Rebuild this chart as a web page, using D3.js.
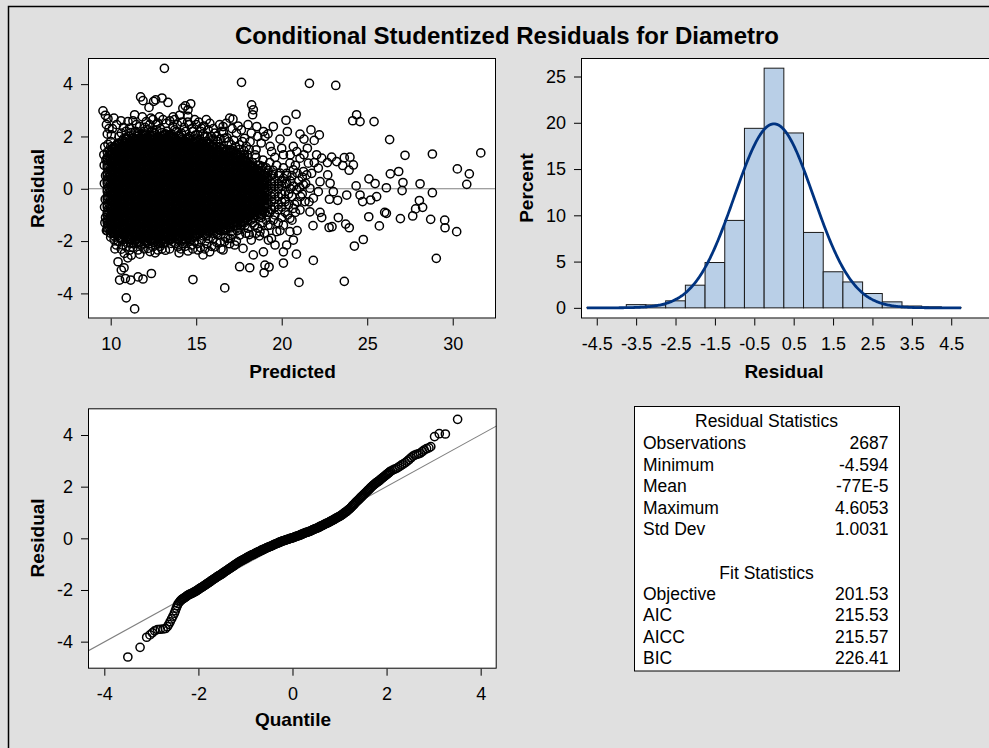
<!DOCTYPE html>
<html>
<head>
<meta charset="utf-8">
<script src="https://cdn.jsdelivr.net/npm/d3@7/dist/d3.min.js"></script>
<style>
html,body{margin:0;padding:0;background:#E0E0E0;}
svg{display:block;}
</style>
</head>
<body>
<svg id="chart" width="989" height="748"></svg>
<script>
// ---- summary values ----
const residualMean = -0.00077;
const residualStd = 1.0031;

// ---- axis ticks ----
const scatterXTicks = [10, 15, 20, 25, 30];
const residualTicks = [-4, -2, 0, 2, 4];
const histXTicks = [-4.5, -3.5, -2.5, -1.5, -0.5, 0.5, 1.5, 2.5, 3.5, 4.5];
const histYTicks = [0, 5, 10, 15, 20, 25];
const quantileTicks = [-4, -2, 0, 2, 4];

// ---- histogram of residuals (bin midpoints, percent of observations) ----
const histBinWidth = 0.5;
const histMidpoints = [-4.5, -4, -3.5, -3, -2.5, -2, -1.5, -1, -0.5, 0, 0.5, 1, 1.5, 2, 2.5, 3, 3.5, 4, 4.5];
const histPercent = [0.04, 0.04, 0.35, 0.32, 0.76, 2.45, 4.9, 9.45, 19.4, 25.9, 18.9, 8.15, 3.9, 2.8, 1.55, 0.65, 0.2, 0.11, 0.04];

// ---- statistics table ----
const residualStats = [["Observations", "2687"], ["Minimum", "-4.594"], ["Mean", "-77E-5"], ["Maximum", "4.6053"], ["Std Dev", "1.0031"]];
const fitStats = [["Objective", "201.53"], ["AIC", "215.53"], ["AICC", "215.57"], ["BIC", "226.41"]];

// ---- residual vs predicted: crowded body, one column per predicted value ----
const denseColumns = [
[9.8,[-1.6,-1.5,-1.3,-1.2,-1,-0.9,-0.7,-0.6,-0.4,-0.3,-0.1,0,0.2,0.3,0.5,0.6,0.8,0.9,1.1,1.2,1.4]],
[10.0,[-1.7,-1.6,-1.4,-1.3,-1.1,-1,-0.8,-0.7,-0.5,-0.4,-0.2,-0.1,0.1,0.2,0.4,0.5,0.7,0.8,1,1.1,1.3,1.4,1.6]],
[10.2,[-1.8,-1.7,-1.5,-1.4,-1.2,-1.1,-0.9,-0.8,-0.6,-0.5,-0.3,-0.2,0,0.1,0.3,0.4,0.6,0.7,0.9,1,1.2,1.3,1.5,1.6]],
[10.4,[-1.8,-1.6,-1.5,-1.3,-1.2,-1,-0.9,-0.7,-0.6,-0.4,-0.3,-0.1,0,0.2,0.3,0.5,0.6,0.8,0.9,1.1,1.2,1.4,1.5,1.7]],
[10.6,[-1.9,-1.7,-1.6,-1.4,-1.3,-1.1,-1,-0.8,-0.7,-0.5,-0.4,-0.2,-0.1,0.1,0.2,0.4,0.5,0.7,0.8,1,1.1,1.3,1.4,1.6,1.7]],
[10.8,[-1.8,-1.7,-1.5,-1.4,-1.2,-1.1,-0.9,-0.8,-0.6,-0.5,-0.3,-0.2,0,0.1,0.3,0.4,0.6,0.7,0.9,1,1.2,1.3,1.5,1.6,1.8]],
[11.0,[-1.9,-1.7,-1.6,-1.4,-1.3,-1.1,-1,-0.8,-0.7,-0.5,-0.4,-0.2,-0.1,0.1,0.2,0.4,0.5,0.7,0.8,1,1.1,1.3,1.4,1.6,1.7,1.9]],
[11.2,[-1.9,-1.8,-1.6,-1.5,-1.3,-1.2,-1,-0.9,-0.7,-0.6,-0.4,-0.3,-0.1,0,0.2,0.3,0.5,0.6,0.8,0.9,1.1,1.2,1.4,1.5,1.7,1.8]],
[11.4,[-2,-1.8,-1.7,-1.5,-1.4,-1.2,-1.1,-0.9,-0.8,-0.6,-0.5,-0.3,-0.2,0,0.1,0.3,0.4,0.6,0.7,0.9,1,1.2,1.3,1.5,1.6,1.8,1.9]],
[11.6,[-2,-1.9,-1.7,-1.6,-1.4,-1.3,-1.1,-1,-0.8,-0.7,-0.5,-0.4,-0.2,-0.1,0.1,0.2,0.4,0.5,0.7,0.8,1,1.1,1.3,1.4,1.6,1.7,1.9,2]],
[11.8,[-1.9,-1.8,-1.6,-1.5,-1.3,-1.2,-1,-0.9,-0.7,-0.6,-0.4,-0.3,-0.1,0,0.2,0.3,0.5,0.6,0.8,0.9,1.1,1.2,1.4,1.5,1.7,1.8,2]],
[12.0,[-2,-1.8,-1.7,-1.5,-1.4,-1.2,-1.1,-0.9,-0.8,-0.6,-0.5,-0.3,-0.2,0,0.1,0.3,0.4,0.6,0.7,0.9,1,1.2,1.3,1.5,1.6,1.8,1.9,2.1]],
[12.2,[-1.9,-1.8,-1.6,-1.5,-1.3,-1.2,-1,-0.9,-0.7,-0.6,-0.4,-0.3,-0.1,0,0.2,0.3,0.5,0.6,0.8,0.9,1.1,1.2,1.4,1.5,1.7,1.8]],
[12.4,[-2,-1.9,-1.7,-1.6,-1.4,-1.3,-1.1,-1,-0.8,-0.7,-0.5,-0.4,-0.2,-0.1,0.1,0.2,0.4,0.5,0.7,0.8,1,1.1,1.3,1.4,1.6,1.7,1.9,2,2.2]],
[12.6,[-2,-1.8,-1.7,-1.5,-1.4,-1.2,-1.1,-0.9,-0.8,-0.6,-0.5,-0.3,-0.2,0,0.1,0.3,0.4,0.6,0.7,0.9,1,1.2,1.3,1.5,1.6,1.8,1.9]],
[12.8,[-2.1,-1.9,-1.8,-1.6,-1.5,-1.3,-1.2,-1,-0.9,-0.7,-0.6,-0.4,-0.3,-0.1,0,0.2,0.3,0.5,0.6,0.8,0.9,1.1,1.2,1.4,1.5,1.7,1.8,2]],
[13.0,[-2,-1.9,-1.7,-1.6,-1.4,-1.3,-1.1,-1,-0.8,-0.7,-0.5,-0.4,-0.2,-0.1,0.1,0.2,0.4,0.5,0.7,0.8,1,1.1,1.3,1.4,1.6,1.7,1.9,2]],
[13.2,[-1.8,-1.7,-1.5,-1.4,-1.2,-1.1,-0.9,-0.8,-0.6,-0.5,-0.3,-0.2,0,0.1,0.3,0.4,0.6,0.7,0.9,1,1.2,1.3,1.5,1.6,1.8,1.9,2.1]],
[13.4,[-1.9,-1.7,-1.6,-1.4,-1.3,-1.1,-1,-0.8,-0.7,-0.5,-0.4,-0.2,-0.1,0.1,0.2,0.4,0.5,0.7,0.8,1,1.1,1.3,1.4,1.6,1.7,1.9,2]],
[13.6,[-1.9,-1.8,-1.6,-1.5,-1.3,-1.2,-1,-0.9,-0.7,-0.6,-0.4,-0.3,-0.1,0,0.2,0.3,0.5,0.6,0.8,0.9,1.1,1.2,1.4,1.5,1.7,1.8,2]],
[13.8,[-1.8,-1.7,-1.5,-1.4,-1.2,-1.1,-0.9,-0.8,-0.6,-0.5,-0.3,-0.2,0,0.1,0.3,0.4,0.6,0.7,0.9,1,1.2,1.3,1.5,1.6,1.8,1.9]],
[14.0,[-1.9,-1.8,-1.6,-1.5,-1.3,-1.2,-1,-0.9,-0.7,-0.6,-0.4,-0.3,-0.1,0,0.2,0.3,0.5,0.6,0.8,0.9,1.1,1.2,1.4,1.5,1.7,1.8,2]],
[14.2,[-1.9,-1.7,-1.6,-1.4,-1.3,-1.1,-1,-0.8,-0.7,-0.5,-0.4,-0.2,-0.1,0.1,0.2,0.4,0.5,0.7,0.8,1,1.1,1.3,1.4,1.6,1.7,1.9]],
[14.4,[-2,-1.8,-1.7,-1.5,-1.4,-1.2,-1.1,-0.9,-0.8,-0.6,-0.5,-0.3,-0.2,0,0.1,0.3,0.4,0.6,0.7,0.9,1,1.2,1.3,1.5,1.6,1.8,1.9]],
[14.6,[-1.9,-1.7,-1.6,-1.4,-1.3,-1.1,-1,-0.8,-0.7,-0.5,-0.4,-0.2,-0.1,0.1,0.2,0.4,0.5,0.7,0.8,1,1.1,1.3,1.4,1.6,1.7,1.9]],
[14.8,[-1.8,-1.6,-1.5,-1.3,-1.2,-1,-0.9,-0.7,-0.6,-0.4,-0.3,-0.1,0,0.2,0.3,0.5,0.6,0.8,0.9,1.1,1.2,1.4,1.5,1.7,1.8]],
[15.0,[-1.8,-1.7,-1.5,-1.4,-1.2,-1.1,-0.9,-0.8,-0.6,-0.5,-0.3,-0.2,0,0.1,0.3,0.4,0.6,0.7,0.9,1,1.2,1.3,1.5,1.6,1.8,1.9]],
[15.2,[-1.7,-1.6,-1.4,-1.3,-1.1,-1,-0.8,-0.7,-0.5,-0.4,-0.2,-0.1,0.1,0.2,0.4,0.5,0.7,0.8,1,1.1,1.3,1.4,1.6,1.7]],
[15.4,[-1.8,-1.6,-1.5,-1.3,-1.2,-1,-0.9,-0.7,-0.6,-0.4,-0.3,-0.1,0,0.2,0.3,0.5,0.6,0.8,0.9,1.1,1.2,1.4,1.5,1.7,1.8]],
[15.6,[-1.8,-1.7,-1.5,-1.4,-1.2,-1.1,-0.9,-0.8,-0.6,-0.5,-0.3,-0.2,0,0.1,0.3,0.4,0.6,0.7,0.9,1,1.2,1.3,1.5,1.6,1.8]],
[15.8,[-1.6,-1.5,-1.3,-1.2,-1,-0.9,-0.7,-0.6,-0.4,-0.3,-0.1,0,0.2,0.3,0.5,0.6,0.8,0.9,1.1,1.2,1.4,1.5,1.7]],
[16.0,[-1.7,-1.6,-1.4,-1.3,-1.1,-1,-0.8,-0.7,-0.5,-0.4,-0.2,-0.1,0.1,0.2,0.4,0.5,0.7,0.8,1,1.1,1.3,1.4,1.6,1.7]],
[16.2,[-1.7,-1.5,-1.4,-1.2,-1.1,-0.9,-0.8,-0.6,-0.5,-0.3,-0.2,0,0.1,0.3,0.4,0.6,0.7,0.9,1,1.2,1.3,1.5,1.6]],
[16.4,[-1.6,-1.4,-1.3,-1.1,-1,-0.8,-0.7,-0.5,-0.4,-0.2,-0.1,0.1,0.2,0.4,0.5,0.7,0.8,1,1.1,1.3,1.4,1.6]],
[16.6,[-1.6,-1.5,-1.3,-1.2,-1,-0.9,-0.7,-0.6,-0.4,-0.3,-0.1,0,0.2,0.3,0.5,0.6,0.8,0.9,1.1,1.2,1.4,1.5]],
[16.8,[-1.5,-1.4,-1.2,-1.1,-0.9,-0.8,-0.6,-0.5,-0.3,-0.2,0,0.1,0.3,0.4,0.6,0.7,0.9,1,1.2,1.3,1.5]],
[17.0,[-1.5,-1.3,-1.2,-1,-0.9,-0.7,-0.6,-0.4,-0.3,-0.1,0,0.2,0.3,0.5,0.6,0.8,0.9,1.1,1.2,1.4,1.5]],
[17.2,[-1.4,-1.3,-1.1,-1,-0.8,-0.7,-0.5,-0.4,-0.2,-0.1,0.1,0.2,0.4,0.5,0.7,0.8,1,1.1,1.3,1.4]],
[17.4,[-1.4,-1.2,-1.1,-0.9,-0.8,-0.6,-0.5,-0.3,-0.2,0,0.1,0.3,0.4,0.6,0.7,0.9,1,1.2,1.3]],
[17.6,[-1.4,-1.3,-1.1,-1,-0.8,-0.7,-0.5,-0.4,-0.2,-0.1,0.1,0.2,0.4,0.5,0.7,0.8,1,1.1,1.3]],
[17.8,[-1.3,-1.2,-1,-0.9,-0.7,-0.6,-0.4,-0.3,-0.1,0,0.2,0.3,0.5,0.6,0.8,0.9,1.1,1.2]],
[18.0,[-1.2,-1.1,-0.9,-0.8,-0.6,-0.5,-0.3,-0.2,0,0.1,0.3,0.4,0.6,0.7,0.9,1]],
[18.2,[-1.2,-1,-0.9,-0.7,-0.6,-0.4,-0.3,-0.1,0,0.2,0.3,0.5,0.6,0.8,0.9]],
[18.4,[-1.1,-1,-0.8,-0.7,-0.5,-0.4,-0.2,-0.1,0.1,0.2,0.4,0.5,0.7,0.8]],
[18.6,[-0.9,-0.8,-0.6,-0.5,-0.3,-0.2,0,0.1,0.3,0.4,0.6,0.7]],
[18.8,[-1,-0.8,-0.7,-0.5,-0.4,-0.2,-0.1,0.1,0.2,0.4,0.5,0.7,0.8]],
[19.0,[-0.9,-0.7,-0.6,-0.4,-0.3,-0.1,0,0.2,0.3,0.5,0.6]],
[19.2,[-0.9,-0.6,-0.4,-0.1,0.1,0.4,0.6]],
[19.4,[-0.8,-0.5,-0.3,0,0.2,0.5]],
[19.6,[-0.7,-0.4,-0.2,0.1,0.3]],
[19.8,[-0.6,-0.3,0,0.2]],
[20.0,[-0.5,-0.2,0.1,0.3]],
[20.2,[-0.4,-0.1,0.2]],
[9.9,[-1.55,-1.35,-1.15,-0.95,-0.75,-0.55,-0.35,-0.15,0.05,0.25,0.45,0.65,0.85,1.05,1.25,1.45]],
[10.1,[-1.65,-1.45,-1.25,-1.05,-0.85,-0.65,-0.45,-0.25,-0.05,0.15,0.35,0.55,0.75,0.95,1.15,1.35,1.55]],
[10.3,[-1.75,-1.55,-1.35,-1.15,-0.95,-0.75,-0.55,-0.35,-0.15,0.05,0.25,0.45,0.65,0.85,1.05,1.25,1.45,1.65]],
[10.5,[-1.85,-1.65,-1.45,-1.25,-1.05,-0.85,-0.65,-0.45,-0.25,-0.05,0.15,0.35,0.55,0.75,0.95,1.15,1.35,1.55,1.75]],
[10.7,[-1.95,-1.75,-1.55,-1.35,-1.15,-0.95,-0.75,-0.55,-0.35,-0.15,0.05,0.25,0.45,0.65,0.85,1.05,1.25,1.45,1.65,1.85]],
[10.9,[-1.85,-1.65,-1.45,-1.25,-1.05,-0.85,-0.65,-0.45,-0.25,-0.05,0.15,0.35,0.55,0.75,0.95,1.15,1.35,1.55,1.75,1.95]],
[11.1,[-1.95,-1.75,-1.55,-1.35,-1.15,-0.95,-0.75,-0.55,-0.35,-0.15,0.05,0.25,0.45,0.65,0.85,1.05,1.25,1.45,1.65,1.85]],
[11.3,[-2.05,-1.85,-1.65,-1.45,-1.25,-1.05,-0.85,-0.65,-0.45,-0.25,-0.05,0.15,0.35,0.55,0.75,0.95,1.15,1.35,1.55,1.75,1.95]],
[11.5,[-1.95,-1.75,-1.55,-1.35,-1.15,-0.95,-0.75,-0.55,-0.35,-0.15,0.05,0.25,0.45,0.65,0.85,1.05,1.25,1.45,1.65,1.85,2.05]],
[11.7,[-2.05,-1.85,-1.65,-1.45,-1.25,-1.05,-0.85,-0.65,-0.45,-0.25,-0.05,0.15,0.35,0.55,0.75,0.95,1.15,1.35,1.55,1.75,1.95]],
[11.9,[-1.95,-1.75,-1.55,-1.35,-1.15,-0.95,-0.75,-0.55,-0.35,-0.15,0.05,0.25,0.45,0.65,0.85,1.05,1.25,1.45,1.65,1.85,2.05]],
[12.1,[-2.05,-1.85,-1.65,-1.45,-1.25,-1.05,-0.85,-0.65,-0.45,-0.25,-0.05,0.15,0.35,0.55,0.75,0.95,1.15,1.35,1.55,1.75,1.95]],
[12.3,[-1.95,-1.75,-1.55,-1.35,-1.15,-0.95,-0.75,-0.55,-0.35,-0.15,0.05,0.25,0.45,0.65,0.85,1.05,1.25,1.45,1.65,1.85,2.05]],
[12.5,[-2.05,-1.85,-1.65,-1.45,-1.25,-1.05,-0.85,-0.65,-0.45,-0.25,-0.05,0.15,0.35,0.55,0.75,0.95,1.15,1.35,1.55,1.75,1.95,2.15]],
[12.7,[-1.95,-1.75,-1.55,-1.35,-1.15,-0.95,-0.75,-0.55,-0.35,-0.15,0.05,0.25,0.45,0.65,0.85,1.05,1.25,1.45,1.65,1.85]],
[12.9,[-2.05,-1.85,-1.65,-1.45,-1.25,-1.05,-0.85,-0.65,-0.45,-0.25,-0.05,0.15,0.35,0.55,0.75,0.95,1.15,1.35,1.55,1.75,1.95]],
[13.1,[-1.95,-1.75,-1.55,-1.35,-1.15,-0.95,-0.75,-0.55,-0.35,-0.15,0.05,0.25,0.45,0.65,0.85,1.05,1.25,1.45,1.65,1.85,2.05]],
[13.3,[-1.85,-1.65,-1.45,-1.25,-1.05,-0.85,-0.65,-0.45,-0.25,-0.05,0.15,0.35,0.55,0.75,0.95,1.15,1.35,1.55,1.75,1.95]],
[13.5,[-1.95,-1.75,-1.55,-1.35,-1.15,-0.95,-0.75,-0.55,-0.35,-0.15,0.05,0.25,0.45,0.65,0.85,1.05,1.25,1.45,1.65,1.85,2.05]],
[13.7,[-1.85,-1.65,-1.45,-1.25,-1.05,-0.85,-0.65,-0.45,-0.25,-0.05,0.15,0.35,0.55,0.75,0.95,1.15,1.35,1.55,1.75,1.95]],
[13.9,[-1.95,-1.75,-1.55,-1.35,-1.15,-0.95,-0.75,-0.55,-0.35,-0.15,0.05,0.25,0.45,0.65,0.85,1.05,1.25,1.45,1.65,1.85]],
[14.1,[-1.85,-1.65,-1.45,-1.25,-1.05,-0.85,-0.65,-0.45,-0.25,-0.05,0.15,0.35,0.55,0.75,0.95,1.15,1.35,1.55,1.75,1.95]],
[14.3,[-1.95,-1.75,-1.55,-1.35,-1.15,-0.95,-0.75,-0.55,-0.35,-0.15,0.05,0.25,0.45,0.65,0.85,1.05,1.25,1.45,1.65,1.85]],
[14.5,[-1.85,-1.65,-1.45,-1.25,-1.05,-0.85,-0.65,-0.45,-0.25,-0.05,0.15,0.35,0.55,0.75,0.95,1.15,1.35,1.55,1.75,1.95]],
[14.7,[-1.95,-1.75,-1.55,-1.35,-1.15,-0.95,-0.75,-0.55,-0.35,-0.15,0.05,0.25,0.45,0.65,0.85,1.05,1.25,1.45,1.65,1.85]],
[14.9,[-1.85,-1.65,-1.45,-1.25,-1.05,-0.85,-0.65,-0.45,-0.25,-0.05,0.15,0.35,0.55,0.75,0.95,1.15,1.35,1.55,1.75]],
[15.1,[-1.75,-1.55,-1.35,-1.15,-0.95,-0.75,-0.55,-0.35,-0.15,0.05,0.25,0.45,0.65,0.85,1.05,1.25,1.45,1.65,1.85]],
[15.3,[-1.65,-1.45,-1.25,-1.05,-0.85,-0.65,-0.45,-0.25,-0.05,0.15,0.35,0.55,0.75,0.95,1.15,1.35,1.55,1.75]],
[15.5,[-1.75,-1.55,-1.35,-1.15,-0.95,-0.75,-0.55,-0.35,-0.15,0.05,0.25,0.45,0.65,0.85,1.05,1.25,1.45,1.65]],
[15.7,[-1.65,-1.45,-1.25,-1.05,-0.85,-0.65,-0.45,-0.25,-0.05,0.15,0.35,0.55,0.75,0.95,1.15,1.35,1.55,1.75]],
[15.9,[-1.55,-1.35,-1.15,-0.95,-0.75,-0.55,-0.35,-0.15,0.05,0.25,0.45,0.65,0.85,1.05,1.25,1.45,1.65]],
[16.1,[-1.65,-1.45,-1.25,-1.05,-0.85,-0.65,-0.45,-0.25,-0.05,0.15,0.35,0.55,0.75,0.95,1.15,1.35,1.55]],
[16.3,[-1.55,-1.35,-1.15,-0.95,-0.75,-0.55,-0.35,-0.15,0.05,0.25,0.45,0.65,0.85,1.05,1.25,1.45]],
[16.5,[-1.45,-1.25,-1.05,-0.85,-0.65,-0.45,-0.25,-0.05,0.15,0.35,0.55,0.75,0.95,1.15,1.35,1.55]],
[16.7,[-1.55,-1.35,-1.15,-0.95,-0.75,-0.55,-0.35,-0.15,0.05,0.25,0.45,0.65,0.85,1.05,1.25,1.45]],
[16.9,[-1.45,-1.25,-1.05,-0.85,-0.65,-0.45,-0.25,-0.05,0.15,0.35,0.55,0.75,0.95,1.15,1.35]],
[17.1,[-1.35,-1.15,-0.95,-0.75,-0.55,-0.35,-0.15,0.05,0.25,0.45,0.65,0.85,1.05,1.25,1.45]],
[17.3,[-1.25,-1.05,-0.85,-0.65,-0.45,-0.25,-0.05,0.15,0.35,0.55,0.75,0.95,1.15,1.35]],
[17.5,[-1.35,-1.15,-0.95,-0.75,-0.55,-0.35,-0.15,0.05,0.25,0.45,0.65,0.85,1.05,1.25]],
[17.7,[-1.25,-1.05,-0.85,-0.65,-0.45,-0.25,-0.05,0.15,0.35,0.55,0.75,0.95,1.15]],
[17.9,[-1.15,-0.95,-0.75,-0.55,-0.35,-0.15,0.05,0.25,0.45,0.65,0.85,1.05]],
[18.1,[-1.05,-0.85,-0.65,-0.45,-0.25,-0.05,0.15,0.35,0.55,0.75,0.95]],
[18.3,[-1.15,-0.95,-0.75,-0.55,-0.35,-0.15,0.05,0.25,0.45,0.65,0.85]],
[18.5,[-0.85,-0.65,-0.45,-0.25,-0.05,0.15,0.35,0.55,0.75]],
[18.7,[-0.95,-0.75,-0.55,-0.35,-0.15,0.05,0.25,0.45,0.65]],
[18.9,[-0.85,-0.65,-0.45,-0.25,-0.05,0.15,0.35,0.55]],
[19.1,[-0.75,-0.55,-0.35,-0.15,0.05,0.25,0.45]]
];

// ---- residual vs predicted: edge of the body and outlying observations [predicted, residual] ----
const sparsePoints = [
[13.14,4.6053],[17.65,4.07],[11.75,3.51],[11.89,3.37],[12.24,3.11],[12.51,3.34],[12.63,3.40],[13.0,3.47],[13.35,3.30],[14.22,3.08],[14.36,3.17],[14.68,3.25],[14.52,3.02],
[9.55,2.98],[9.69,2.81],[9.84,2.68],[10.19,2.70],[9.80,2.09],[10.04,2.06],[9.84,1.70],[10.62,2.13],[10.78,1.93],[11.01,2.57],[11.11,2.32],[11.40,2.83],[11.69,2.38],[11.60,2.13],[12.08,2.57],[12.28,2.45],[12.47,2.64],[12.76,2.51],[13.06,2.64],[13.45,2.60],[13.64,2.38],[13.74,2.64],[14.03,2.81],[13.84,2.19],[14.52,2.77],[14.91,2.64],[15.30,2.32],[15.59,2.64],[16.08,2.13],[16.37,2.45],[16.57,2.38],[16.96,2.70],[17.15,2.66],[17.35,2.13],[17.64,2.25],[17.83,1.93],[17.54,1.68],[18.03,2.45],[18.22,2.13],[17.83,1.30],[17.93,1.62],[17.05,1.68],[16.66,1.93],[16.27,1.81],[15.88,2.00],[15.10,2.06],[14.61,2.00],[14.13,2.13],[13.16,2.06],[12.57,2.13],[11.89,2.06],[11.31,1.93],[10.43,1.74],[10.29,1.55],
[10.9,2.2],[11.5,2.45],[12.9,2.3],[13.3,2.2],[14.3,2.35],[14.8,2.2],[15.4,2.1],[15.7,2.25],[16.2,2.0],[16.8,1.95],[17.2,1.85],[17.5,1.5],[12.0,2.35],[13.9,2.45],[15.0,2.45],[16.6,2.15],[10.5,2.0],[11.2,2.15],[12.7,2.25],[14.6,2.45],[17.9,1.1],[18.1,1.5],[16.0,1.9],[15.5,2.0],[12.2,2.25],[13.55,2.1],
[10.1,2.3],[10.35,2.45],[10.6,2.6],[10.75,2.35],[11.05,2.0],[11.3,2.6],[11.45,2.2],[11.85,2.75],[11.95,2.2],[12.1,2.05],[12.35,2.7],[12.45,2.05],[12.65,2.45],[12.85,2.75],[13.0,2.15],[13.25,2.5],[13.4,2.05],[13.65,2.75],[13.75,2.25],[14.0,2.05],[14.15,2.55],[14.4,2.2],[14.5,2.55],[14.75,2.3],[14.95,2.05],[15.15,2.55],[15.25,2.2],[15.45,2.4],[15.65,2.0],[15.8,2.5],[16.0,2.3],[16.15,1.85],[16.4,1.9],[16.5,2.2],[16.75,2.5],[16.9,1.8],[17.1,2.3],[17.3,1.6],[17.45,2.4],[17.7,1.8],[17.8,1.45],[18.0,1.3],[18.15,1.8],[9.9,2.3],[9.75,2.45],[10.0,1.8],[9.6,1.3],[9.62,0.9],[9.63,0.2],[9.64,-0.7],[9.66,-1.3],
[11.40,-4.594],[10.91,-4.17],[10.43,-2.79],[10.62,-3.11],[10.78,-3.02],[10.86,-3.43],[10.52,-3.49],[11.17,-3.49],[11.60,-3.37],[11.89,-3.45],[12.38,-3.24],[14.81,-3.47],[16.67,-3.79],[17.54,-2.98],[18.13,-3.02],[11.0,-2.64],[11.21,-2.54],[10.8,-2.47],
[10.33,-2.15],[10.62,-2.31],[10.91,-2.22],[11.21,-2.09],[11.60,-2.34],[11.79,-2.15],[12.18,-2.28],[12.47,-2.22],[12.76,-2.34],[13.35,-1.96],[13.55,-2.09],[13.94,-2.22],[14.52,-2.38],[14.71,-2.15],[15.10,-2.34],[15.40,-2.53],[15.79,-2.41],[16.08,-2.22],[16.57,-2.34],[16.66,-2.02],[17.25,-2.15],[17.74,-2.28],[17.54,-1.77],[18.22,-1.96],[18.03,-1.51],[17.64,-1.39],[17.05,-1.64],[10.62,-1.90],[10.13,-1.70],[9.84,-1.39],[16.86,-1.90],[16.27,-1.77],[13.84,-1.90],[13.06,-2.09],[12.38,-1.96],[11.40,-1.96],
[10.2,-1.95],[11.0,-2.05],[12.0,-2.1],[12.9,-2.2],[13.7,-2.05],[14.2,-2.1],[14.9,-2.0],[15.6,-2.1],[16.0,-1.9],[16.4,-2.05],[17.0,-1.9],[17.4,-1.6],[17.9,-1.7],[15.3,-1.95],[11.7,-2.5],[12.6,-2.45],[14.0,-2.45],[13.2,-2.35],[9.7,-1.1],[9.68,-0.4],[9.7,0.5],[9.72,1.1],[9.65,1.6],[9.75,-1.6],
[10.0,-1.85],[10.25,-2.3],[10.45,-2.0],[10.7,-2.15],[11.1,-2.35],[11.3,-2.25],[11.5,-2.1],[11.95,-2.3],[12.1,-2.0],[12.3,-2.4],[12.55,-2.05],[12.8,-2.1],[13.0,-2.3],[13.15,-2.05],[13.45,-2.3],[13.8,-2.1],[14.1,-2.3],[14.35,-2.2],[14.6,-2.0],[14.8,-2.3],[15.05,-2.1],[15.25,-2.25],[15.5,-2.3],[15.7,-1.9],[15.9,-2.2],[16.2,-2.05],[16.45,-2.3],[16.7,-1.85],[16.95,-2.1],[17.15,-1.75],[17.35,-2.0],[17.6,-1.55],[17.85,-1.4],[18.1,-1.75],[18.3,-1.3],
[18.24,3.21],[18.34,3.02],[18.30,2.83],[18.54,2.38],[18.93,2.19],[19.02,2.00],[19.51,2.38],[20.25,2.62],[20.84,2.85],[20.33,2.19],[21.07,2.09],[21.71,2.25],[22.20,2.06],[18.50,1.49],[18.44,1.30],[19.32,1.62],[19.41,1.42],[20.0,1.55],[20.10,1.30],[20.68,1.62],[20.88,1.42],[21.07,1.17],[21.50,1.55],[22.04,1.30],[22.34,1.17],[22.92,1.21],[23.21,1.04],[23.66,1.19],[23.99,1.21],[24.19,0.91],[23.57,0.89],[23.94,0.71],[22.69,0.53],[22.67,1.00],[22.14,0.79],[21.75,0.59],[21.46,0.53],[21.56,0.98],[21.27,0.66],[20.48,0.98],[20.68,0.72],[20.29,0.59],[22.83,0.21],[23.02,-0.11],[22.14,-0.11],[21.65,0.02],[21.27,0.15],[20.88,-0.04],[22.24,0.27],[21.85,-0.36],[21.36,-0.49],[21.07,-0.81],[20.68,-0.75],[22.34,-1.10],[21.65,-0.88],[22.24,-0.90],[22.79,-0.40],[23.27,-0.44],[23.80,-0.24],[23.31,-1.10],[22.94,-1.45],[22.77,-1.48],[21.83,-1.41],[23.74,-1.35],[23.95,-1.49],[24.35,0.11],[24.58,-0.24],[24.73,-0.49],[25.10,0.38],[25.46,0.20],[25.55,-0.30],[25.20,-0.43],[20.48,-1.13],[20.10,-1.39],[20.48,-1.64],[20.68,-1.96],[20.29,-2.15],[20.10,-2.41],[19.61,-2.15],[19.22,-1.96],[18.93,-2.41],[19.02,-2.92],[19.26,-2.99],[18.97,-3.21],[20.10,-2.84],[20.86,-2.50],[18.34,-2.53],[19.71,-1.64],[19.32,-1.39],[18.73,-1.64],[21.85,-2.74],[21.01,-3.58],[23.66,-3.54],
[21.62,4.03],[23.16,3.95],[24.38,2.83],[24.15,2.60],[24.58,2.57],[25.40,2.57],[26.31,1.88],[27.21,1.28],[28.81,1.33],[31.64,1.37],[30.27,0.76],[30.97,0.57],[30.82,0.17],[28.81,-0.15],[28.09,0.19],[27.09,0.24],[27.04,-0.07],[26.35,0.57],[26.84,0.66],[26.12,0.04],[28.05,-0.45],[28.24,-0.71],[27.83,-0.77],[27.66,-1.04],[28.71,-1.17],[29.53,-1.20],[29.55,-1.49],[30.23,-1.64],[29.04,-2.66],[26.94,-1.14],[26.02,-0.90],[26.12,-0.94],[25.71,-1.42],[25.09,-1.07],[24.77,-1.94],[24.25,-2.19],
[18.3,1.0],[18.5,1.2],[18.7,0.9],[18.9,1.1],[19.1,0.8],[19.3,1.0],[19.5,0.7],[19.7,0.9],[19.9,0.6],[20.1,0.8],[20.3,0.5],[20.5,0.3],[20.7,0.1],[20.6,-0.3],[20.4,-0.6],[20.2,-0.9],[20.0,-1.1],[19.8,-1.3],[19.5,-1.2],[19.2,-1.4],[18.9,-1.3],[18.6,-1.5],[18.4,-1.4],[18.7,-1.8],[19.0,-1.7],[19.4,-1.9],[20.6,-1.2],[20.9,-0.5],[21.0,0.3],[20.8,0.9],[20.9,-1.6],[21.2,-0.2],
[18.8,1.75],[19.2,2.1],[19.9,1.9],[18.6,2.0],[19.6,1.2],[20.5,1.3],[21.3,1.9],[21.9,1.0],[21.9,1.85],[21.3,1.3],
[18.5,-1.0],[18.8,-1.1],[19.1,-1.0],[19.3,-0.9],[19.6,-1.0],[19.8,-0.8],[20.0,-0.7],[20.2,-0.5],[20.4,-0.2],[20.5,0.0],[20.3,0.2],[20.1,0.4],[19.8,0.5],[19.5,0.55],[19.2,0.7],[18.9,0.85],[18.6,0.9],[20.6,0.5],[20.8,-0.9],[21.1,-0.3],[21.4,0.2],[21.6,-0.5],[21.2,0.45],[20.9,0.6],[19.9,-1.6],[19.1,-1.2],[18.5,-1.7],[20.35,-1.0],[20.75,-0.6],[21.05,0.05]
];

// ---- normal quantile plot [quantile, ordered residual] ----
const qqPoints = [
[-3.50,-4.594],[-3.24,-4.22],[-3.10,-3.83],[-3.03,-3.74],[-2.98,-3.66],[-2.93,-3.58],[-2.87,-3.53],[-2.81,-3.52],[-2.75,-3.51],[-2.70,-3.49],[-2.66,-3.42],[-2.63,-3.33],[-2.60,-3.23],[-2.57,-3.12],[-2.54,-3.01],[-2.51,-2.90],[-2.49,-2.80],[-2.47,-2.70],[-2.45,-2.61],[-2.43,-2.53],[-2.40,-2.46],[-2.38,-2.41],
[-2.36,-2.38],[-2.32,-2.33],[-2.28,-2.28],[-2.24,-2.23],[-2.20,-2.18],[-2.16,-2.15],[-2.12,-2.11],[-2.08,-2.07],[-2.04,-2.03],[-2.00,-1.98],[-1.96,-1.93],[-1.92,-1.89],[-1.88,-1.84],[-1.84,-1.79],[-1.80,-1.74],[-1.76,-1.69],[-1.72,-1.64],[-1.68,-1.59],[-1.64,-1.54],[-1.60,-1.49],[-1.56,-1.44],[-1.52,-1.40],[-1.48,-1.35],[-1.44,-1.30],[-1.40,-1.25],[-1.36,-1.20],[-1.32,-1.15],[-1.28,-1.10],[-1.24,-1.05],[-1.20,-1.00],[-1.16,-0.95],[-1.12,-0.90],[-1.08,-0.86],[-1.04,-0.82],[-1.00,-0.78],[-0.96,-0.74],[-0.92,-0.70],[-0.88,-0.66],[-0.84,-0.63],[-0.80,-0.59],[-0.76,-0.55],[-0.72,-0.52],[-0.68,-0.48],[-0.64,-0.45],[-0.60,-0.42],[-0.56,-0.38],[-0.52,-0.35],[-0.48,-0.32],[-0.44,-0.29],[-0.40,-0.25],[-0.36,-0.22],[-0.32,-0.19],[-0.28,-0.16],[-0.24,-0.13],[-0.20,-0.10],[-0.16,-0.08],[-0.12,-0.05],[-0.08,-0.03],[-0.04,0.00],[0.00,0.02],[0.04,0.05],[0.08,0.08],[0.12,0.10],[0.16,0.13],[0.20,0.16],[0.24,0.19],[0.28,0.22],[0.32,0.24],[0.36,0.27],[0.40,0.30],[0.44,0.34],[0.48,0.37],[0.52,0.40],[0.56,0.43],[0.60,0.47],[0.64,0.50],[0.68,0.54],[0.72,0.58],[0.76,0.61],[0.80,0.65],[0.84,0.69],[0.88,0.73],[0.92,0.77],[0.96,0.81],[1.00,0.85],[1.04,0.90],[1.08,0.95],[1.12,1.01],[1.16,1.06],[1.20,1.12],[1.24,1.19],[1.28,1.27],[1.32,1.34],[1.36,1.42],[1.40,1.49],[1.44,1.56],[1.48,1.63],[1.52,1.70],[1.56,1.78],[1.60,1.85],[1.64,1.92],[1.68,1.99],[1.72,2.06],[1.76,2.12],[1.80,2.18],[1.84,2.23],[1.88,2.29],[1.92,2.35],[1.96,2.41],[2.00,2.47],[2.04,2.53],[2.08,2.59],[2.12,2.63],[2.16,2.67],[2.20,2.70],[2.24,2.74],[2.28,2.79],[2.32,2.84],[2.36,2.88],[2.40,2.93],[2.44,2.99],[2.48,3.05],[2.52,3.12],[2.56,3.18],
[1.22,1.15],[1.26,1.23],[1.30,1.30],[1.34,1.38],[1.38,1.45],[1.42,1.52],[1.46,1.60],[1.50,1.67],[1.54,1.74],[1.58,1.81],[1.62,1.88],[1.66,1.96],[1.70,2.03],[1.74,2.09],[1.78,2.15],[1.82,2.20],[1.86,2.26],[1.90,2.32],[1.94,2.38],[1.98,2.44],[2.02,2.50],[2.06,2.56],
[-2.34,-2.35],[-2.30,-2.30],[-2.26,-2.25],[-2.22,-2.20],[-2.18,-2.16],[-2.14,-2.13],[-2.10,-2.09],[-2.06,-2.05],[-2.02,-2.00],[-1.98,-1.95],[-1.94,-1.91],[-1.90,-1.86],[-1.86,-1.81],[-1.82,-1.76],[-1.78,-1.71],[-1.74,-1.66],[-1.70,-1.61],[-1.66,-1.56],[-1.62,-1.51],[-1.58,-1.46],[-1.54,-1.42],[-1.50,-1.37],[-1.46,-1.32],[-1.42,-1.27],[-1.38,-1.22],[-1.34,-1.17],[-1.30,-1.12],[-1.26,-1.07],[-1.22,-1.02],[-1.18,-0.97],[-1.14,-0.92],[-1.10,-0.88],[-1.06,-0.84],[-1.02,-0.80],[-0.98,-0.76],[-0.94,-0.72],[-0.90,-0.68],[-0.86,-0.64],[-0.82,-0.61],[-0.78,-0.57],[-0.74,-0.53],[-0.70,-0.50],[-0.66,-0.46],[-0.62,-0.43],[-0.58,-0.40],[-0.54,-0.36],[-0.50,-0.33],[-0.46,-0.30],[-0.42,-0.27],[-0.38,-0.23],[-0.34,-0.20],[-0.30,-0.17],[-0.26,-0.14],[-0.22,-0.11],[-0.18,-0.09],[-0.14,-0.06],[-0.10,-0.04],[-0.06,-0.01],[-0.02,0.01],[0.02,0.03],[0.06,0.06],[0.10,0.09],[0.14,0.11],[0.18,0.14],[0.22,0.17],[0.26,0.20],[0.30,0.23],[0.34,0.25],[0.38,0.28],[0.42,0.32],[0.46,0.35],[0.50,0.38],[0.54,0.41],[0.58,0.45],[0.62,0.48],[0.66,0.52],[0.70,0.56],[0.74,0.59],[0.78,0.63],[0.82,0.67],[0.86,0.71],[0.90,0.75],[0.94,0.79],[0.98,0.83],[1.02,0.87],[1.06,0.92],[1.10,0.98],[1.14,1.03],[1.18,1.09],
[2.60,3.22],[2.64,3.25],[2.68,3.27],[2.72,3.30],[2.76,3.36],[2.80,3.42],[2.85,3.47],[2.90,3.50],[2.94,3.55],[3.02,3.94],[3.12,4.05],[3.25,4.04],[3.51,4.6053]
];

// ================= drawing =================
const FONT = "'Liberation Sans', Arial, Helvetica, sans-serif";
const svg = d3.select("#chart");
const W = 989, H = 748;
const plain = d => String(d);

svg.append("rect").attr("width", W).attr("height", H).attr("fill", "#E0E0E0");
svg.append("path").attr("d", "M8.5,748V6.5H989").attr("fill", "none").attr("stroke", "#000").attr("stroke-width", 1.5);

svg.append("text").attr("x", 507).attr("y", 44).attr("text-anchor", "middle")
  .style("font-family", FONT).style("font-size", "24px").style("font-weight", "bold")
  .attr("fill", "#000").text("Conditional Studentized Residuals for Diametro");

function styleAxis(g) {
  g.select(".domain").remove();
  g.selectAll(".tick line").attr("stroke", "#000").attr("stroke-width", 1);
  g.selectAll(".tick text").attr("fill", "#000").style("font-family", FONT).style("font-size", "18px");
}

function makePanel(id, box, xDomain, yDomain) {
  const x = d3.scaleLinear().domain(xDomain).range([box.x, box.x + box.w]);
  const y = d3.scaleLinear().domain(yDomain).range([box.y + box.h, box.y]);
  svg.append("clipPath").attr("id", id).append("rect")
    .attr("x", box.x).attr("y", box.y).attr("width", box.w).attr("height", box.h);
  svg.append("rect").attr("x", box.x).attr("y", box.y).attr("width", box.w).attr("height", box.h).attr("fill", "#fff");
  const layer = svg.append("g").attr("clip-path", `url(#${id})`);
  return { x, y, layer, box };
}

function frame(box) {
  svg.append("rect").attr("x", box.x + 0.5).attr("y", box.y + 0.5).attr("width", box.w - 1).attr("height", box.h - 1)
    .attr("fill", "none").attr("stroke", "#000").attr("stroke-width", 1);
}

function bottomAxis(p, ticks) {
  svg.append("g").attr("transform", `translate(0,${p.box.y + p.box.h})`)
    .call(d3.axisBottom(p.x).tickValues(ticks).tickFormat(plain).tickSize(7).tickPadding(11.5))
    .call(styleAxis);
}
function leftAxis(p, ticks) {
  svg.append("g").attr("transform", `translate(${p.box.x},0)`)
    .call(d3.axisLeft(p.y).tickValues(ticks).tickFormat(plain).tickSize(7).tickPadding(8))
    .call(styleAxis);
}
function axisLabel(text, x, y, rotate) {
  const t = svg.append("text").attr("text-anchor", "middle")
    .style("font-family", FONT).style("font-size", "19px").style("font-weight", "bold").attr("fill", "#000").text(text);
  if (rotate) t.attr("transform", `translate(${x},${y}) rotate(-90)`);
  else t.attr("x", x).attr("y", y);
}

const R = 4.1;
function drawCircles(layer, data, x, y) {
  layer.selectAll(null).data(data).join("circle")
    .attr("cx", d => x(d[0])).attr("cy", d => y(d[1])).attr("r", R)
    .attr("fill", "none").attr("stroke", "#000").attr("stroke-width", 1.5);
}

// ---- panel 1: residual vs predicted ----
const scatter = makePanel("clipScatter", { x: 88, y: 58, w: 408, h: 260.5 }, [8.673, 32.53], [-4.96, 5.0]);
scatter.layer.append("line")
  .attr("x1", scatter.box.x).attr("x2", scatter.box.x + scatter.box.w)
  .attr("y1", scatter.y(0)).attr("y2", scatter.y(0))
  .attr("stroke", "#808080").attr("stroke-width", 1.2);
const scatterData = [];
denseColumns.forEach(([p, rs]) => rs.forEach(r => scatterData.push([p, r])));
sparsePoints.forEach(d => scatterData.push(d));
drawCircles(scatter.layer, scatterData, scatter.x, scatter.y);
frame(scatter.box);
bottomAxis(scatter, scatterXTicks);
leftAxis(scatter, residualTicks);
axisLabel("Predicted", 292.5, 378, false);
axisLabel("Residual", 44, 188.5, true);

// ---- panel 2: histogram with normal density ----
const hist = makePanel("clipHist", { x: 581, y: 58, w: 410, h: 260.5 }, [-4.9, 5.51], [-1.15, 27.0]);
hist.layer.selectAll(null).data(histMidpoints.map((m, i) => [m, histPercent[i]])).join("rect")
  .attr("x", d => hist.x(d[0] - histBinWidth / 2))
  .attr("width", d => hist.x(d[0] + histBinWidth / 2) - hist.x(d[0] - histBinWidth / 2))
  .attr("y", d => hist.y(d[1]))
  .attr("height", d => hist.y(0) - hist.y(d[1]))
  .attr("fill", "#B9CFE7").attr("stroke", "#1a1a1a").attr("stroke-width", 1);
const normalPercent = v => histBinWidth * 100 *
  Math.exp(-0.5 * Math.pow((v - residualMean) / residualStd, 2)) / (residualStd * Math.sqrt(2 * Math.PI));
const curveX = d3.range(-4.75, 4.7501, 0.025);
hist.layer.append("path")
  .attr("d", d3.line().x(v => hist.x(v)).y(v => hist.y(normalPercent(v)))(curveX))
  .attr("fill", "none").attr("stroke", "#003380").attr("stroke-width", 2.8).attr("stroke-linejoin", "round");
frame(hist.box);
bottomAxis(hist, histXTicks);
leftAxis(hist, histYTicks);
axisLabel("Residual", 784, 378, false);
axisLabel("Percent", 533, 188, true);

// ---- panel 3: normal quantile plot ----
const qq = makePanel("clipQQ", { x: 88, y: 408.3, w: 408.7, h: 260.4 }, [-4.347, 4.341], [-5.047, 5.034]);
const qd = qq.x.domain();
qq.layer.append("line")
  .attr("x1", qq.x(qd[0])).attr("y1", qq.y(residualMean + residualStd * qd[0]))
  .attr("x2", qq.x(qd[1])).attr("y2", qq.y(residualMean + residualStd * qd[1]))
  .attr("stroke", "#808080").attr("stroke-width", 1.1);
drawCircles(qq.layer, qqPoints, qq.x, qq.y);
frame(qq.box);
bottomAxis(qq, quantileTicks);
leftAxis(qq, residualTicks);
axisLabel("Quantile", 293, 726, false);
axisLabel("Residual", 44, 538, true);

// ---- panel 4: statistics table ----
const tbl = { x: 634, y: 406, w: 265, h: 264.5 };
svg.append("rect").attr("x", tbl.x + 0.5).attr("y", tbl.y + 0.5).attr("width", tbl.w).attr("height", tbl.h)
  .attr("fill", "#fff").attr("stroke", "#000").attr("stroke-width", 1);
const tText = (s, x, y, anchor) => svg.append("text").attr("x", x).attr("y", y).attr("text-anchor", anchor)
  .style("font-family", FONT).style("font-size", "17.5px").attr("fill", "#000").text(s);
const cx = tbl.x + tbl.w / 2, lx = 643, rx = 888.5, rowH = 21.45;
tText("Residual Statistics", cx, 427, "middle");
residualStats.forEach((r, i) => { tText(r[0], lx, 449.3 + i * rowH, "start"); tText(r[1], rx, 449.3 + i * rowH, "end"); });
tText("Fit Statistics", cx, 578.5, "middle");
fitStats.forEach((r, i) => { tText(r[0], lx, 600 + i * rowH, "start"); tText(r[1], rx, 600 + i * rowH, "end"); });
</script>
</body>
</html>
